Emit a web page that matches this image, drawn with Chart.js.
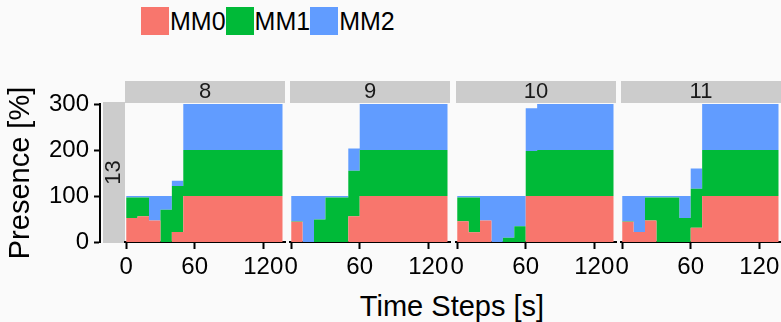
<!DOCTYPE html>
<html>
<head>
<meta charset="utf-8">
<script src="https://cdn.jsdelivr.net/npm/chart.js@4"></script>
<style>
  html, body { margin: 0; padding: 0; background: #FAFAFA; overflow: hidden; width: 781px; height: 322px; }
  body { position: relative; font-family: "Liberation Sans", Arial, sans-serif; color: #000; }
  canvas { position: absolute; }
  #legend { position: absolute; left: 141px; top: 7px; height: 28px; display: flex; align-items: center; }
  .key { display: flex; align-items: center; }
  .swatch { width: 28px; height: 28px; }
  .key span { font-size: 25px; line-height: 28px; margin-left: 1px; }
  #xtitle { position: absolute; left: 252px; width: 400px; top: 292px; text-align: center; font-size: 29px; line-height: 29px; }
</style>
</head>
<body>
<div id="legend"></div>
<div id="xtitle">Time Steps [s]</div>
<script>
// ---- data ----
const seriesNames = ['MM0', 'MM1', 'MM2'];
const seriesColors = ['#F8766D', '#00BA38', '#619CFF'];
const facetLabels = ['8', '9', '10', '11'];
const rowLabel = '13';
const timeSteps = [0, 10, 20, 30, 40, 50, 60, 70];
const endTime = 137;
const xTicks = [0, 60, 120];
const yTicks = [0, 100, 200, 300];

// presence [%] per time step, facet 8
const mm0_8 = [52, 56, 47, 0, 22, 100, 100, 100];
const mm1_8 = [45, 41, 0, 70, 100, 100, 100, 100];
const mm2_8 = [3, 3, 53, 30, 11, 100, 100, 100];
// facet 9
const mm0_9 = [44, 0, 0, 0, 0, 56, 100, 100];
const mm1_9 = [1, 0, 49, 97, 97, 99, 100, 100];
const mm2_9 = [55, 100, 51, 3, 3, 48, 100, 100];
// facet 10
const mm0_10 = [45, 21, 47, 0, 0, 0, 100, 100];
const mm1_10 = [52, 76, 0, 0, 9, 34, 98, 100];
const mm2_10 = [3, 3, 53, 100, 91, 66, 93, 100];
// facet 11
const mm0_11 = [44, 22, 47, 0, 0, 0, 31, 100];
const mm1_11 = [1, 0, 50, 97, 97, 52, 85, 100];
const mm2_11 = [55, 78, 3, 3, 3, 48, 44, 100];

const panelSeries = [
  [mm0_8, mm1_8, mm2_8],
  [mm0_9, mm1_9, mm2_9],
  [mm0_10, mm1_10, mm2_10],
  [mm0_11, mm1_11, mm2_11]
];

// ---- layout ----
const FONT = '"Liberation Sans", Arial, sans-serif';
Chart.defaults.font.family = FONT;
Chart.defaults.color = '#000';

const PANEL_LEFT = [125, 290, 456, 621];
const PANEL_W = 160;
const SIDE = 30;          // room for tick labels overhanging the panel
const CANVAS_TOP = 81;    // top of facet strip
const CANVAS_H = 241;
const PAD_TOP = 23;       // strip height + gap
const AXIS_H = 80;        // space below the plot area
const STRIP_BG = '#CCCCCC';

function addCanvas(left, top, w, h) {
  const c = document.createElement('canvas');
  c.width = w; c.height = h;
  c.style.left = left + 'px'; c.style.top = top + 'px';
  c.style.width = w + 'px'; c.style.height = h + 'px';
  document.body.appendChild(c);
  return c;
}

// legend
const legend = document.getElementById('legend');
seriesNames.forEach((name, k) => {
  const key = document.createElement('div');
  key.className = 'key';
  const sw = document.createElement('div');
  sw.className = 'swatch';
  sw.style.background = seriesColors[k];
  const tx = document.createElement('span');
  tx.textContent = name;
  key.appendChild(sw); key.appendChild(tx);
  legend.appendChild(key);
});

// facet strip above each panel
const topStrip = {
  id: 'topStrip',
  beforeDraw(chart, args, opts) {
    const { ctx, chartArea } = chart;
    ctx.save();
    ctx.fillStyle = STRIP_BG;
    ctx.fillRect(chartArea.left, chartArea.top - PAD_TOP, chartArea.right - chartArea.left, PAD_TOP - 1);
    ctx.fillStyle = '#1A1A1A';
    ctx.font = '22px ' + FONT;
    ctx.textAlign = 'center';
    ctx.textBaseline = 'middle';
    ctx.fillText(opts.text, (chartArea.left + chartArea.right) / 2, chartArea.top - PAD_TOP / 2 - 0.5);
    ctx.restore();
  }
};

// row strip beside the y axis
const rowStrip = {
  id: 'rowStrip',
  beforeDraw(chart, args, opts) {
    const { ctx, chartArea } = chart;
    const x0 = chartArea.left + 3, w = chartArea.right - x0;
    const y0 = chartArea.top - 2, h = chartArea.bottom - chartArea.top + 3;
    ctx.save();
    ctx.fillStyle = STRIP_BG;
    ctx.fillRect(x0, y0, w, h);
    ctx.translate(x0 + w / 2, y0 + h / 2);
    ctx.rotate(-Math.PI / 2);
    ctx.fillStyle = '#1A1A1A';
    ctx.font = '22px ' + FONT;
    ctx.textAlign = 'center';
    ctx.textBaseline = 'middle';
    ctx.fillText(opts.text, 0, 0);
    ctx.restore();
  }
};

// y axis with row strip
new Chart(addCanvas(0, CANVAS_TOP, 125, CANVAS_H), {
  type: 'line',
  data: { datasets: [] },
  options: {
    responsive: false,
    animation: false,
    layout: { padding: { top: PAD_TOP, bottom: AXIS_H, left: 0, right: 0 } },
    plugins: { legend: { display: false }, tooltip: { enabled: false }, rowStrip: { text: rowLabel } },
    scales: {
      x: { type: 'linear', display: false, min: 0, max: 1 },
      y: {
        type: 'linear', position: 'left', min: 0, max: 300,
        afterBuildTicks: s => { s.ticks = yTicks.map(v => ({ value: v })); },
        afterFit: s => { s.width = 100; },
        grid: { drawOnChartArea: false, drawTicks: true, tickLength: 6, tickWidth: 2, tickColor: '#000' },
        border: { display: true, color: '#000', width: 2 },
        ticks: { font: { size: 24 }, color: '#000', padding: 5 },
        title: { display: true, text: 'Presence [%]', font: { size: 29 }, color: '#000', padding: { top: 4, bottom: 0 } }
      }
    }
  },
  plugins: [rowStrip]
});

// one panel per facet
panelSeries.forEach((series, p) => {
  const datasets = series.map((vals, k) => ({
    label: seriesNames[k],
    data: timeSteps.map((t, i) => ({ x: t, y: vals[i] }))
      .concat([{ x: endTime, y: vals[vals.length - 1] }]),
    backgroundColor: seriesColors[k],
    borderColor: 'rgba(0,0,0,0)',
    borderWidth: 0,
    pointRadius: 0,
    stepped: 'before',
    fill: k === 0 ? 'origin' : '-1'
  }));

  new Chart(addCanvas(PANEL_LEFT[p] - SIDE, CANVAS_TOP, PANEL_W + 2 * SIDE, CANVAS_H), {
    type: 'line',
    data: { datasets },
    options: {
      responsive: false,
      animation: false,
      layout: { padding: { top: PAD_TOP, bottom: 0, left: SIDE, right: SIDE } },
      plugins: {
        legend: { display: false },
        tooltip: { enabled: false },
        topStrip: { text: facetLabels[p] }
      },
      scales: {
        x: {
          type: 'linear', min: -1, max: 139,
          afterBuildTicks: s => { s.ticks = xTicks.map(v => ({ value: v })); },
          afterFit: s => { s.height = AXIS_H; },
          grid: { drawOnChartArea: false, drawTicks: true, tickLength: 7, tickWidth: 2, tickColor: '#000' },
          border: { display: true, color: '#000', width: 2 },
          ticks: { font: { size: 24 }, color: '#000', padding: 4, maxRotation: 0, autoSkip: false }
        },
        y: { type: 'linear', stacked: true, min: 0, max: 300, display: false }
      }
    },
    plugins: [topStrip]
  });
});
</script>
</body>
</html>
